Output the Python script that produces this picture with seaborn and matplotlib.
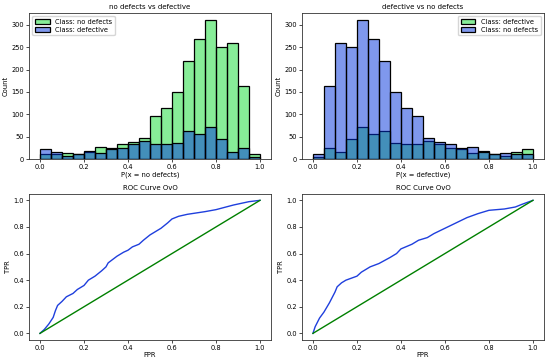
import numpy as np
import pandas as pd
import matplotlib
matplotlib.use("Agg")
import matplotlib.pyplot as plt
import seaborn as sns

# bin edges of the probability histograms (20 bins on [0, 1])
bin_edges = [round(i * 0.05, 2) for i in range(21)]
bin_centers = [round(e + 0.025, 3) for e in bin_edges[:-1]]

# counts per bin of P(x = no defects)
no_defects_counts = [12, 11, 13, 12, 17, 27, 25, 34, 38, 47,
                     96, 115, 151, 218, 268, 311, 250, 258, 163, 12]
defective_counts = [23, 16, 8, 11, 18, 13, 22, 25, 35, 40,
                    34, 33, 37, 63, 57, 71, 46, 16, 25, 5]

# ROC curve OvO: no defects vs defective
roc1_fpr = [0.0, 0.02, 0.04, 0.06, 0.07, 0.08, 0.10, 0.12, 0.15, 0.17, 0.20, 0.22,
            0.25, 0.28, 0.30, 0.31, 0.35, 0.38, 0.40, 0.42, 0.45, 0.47, 0.50, 0.55,
            0.58, 0.60, 0.63, 0.67, 0.75, 0.80, 0.88, 0.95, 1.0]
roc1_tpr = [0.0, 0.03, 0.07, 0.12, 0.17, 0.21, 0.24, 0.275, 0.30, 0.33, 0.36, 0.40,
            0.43, 0.47, 0.50, 0.53, 0.58, 0.61, 0.625, 0.65, 0.67, 0.70, 0.74, 0.79,
            0.83, 0.86, 0.88, 0.895, 0.915, 0.93, 0.965, 0.99, 1.0]

# ROC curve OvO: defective vs no defects
roc2_fpr = [0.0, 0.01, 0.03, 0.05, 0.075, 0.10, 0.11, 0.13, 0.15, 0.20, 0.22, 0.26,
            0.30, 0.35, 0.38, 0.40, 0.45, 0.48, 0.52, 0.55, 0.60, 0.65, 0.70, 0.75,
            0.80, 0.87, 0.92, 0.95, 1.0]
roc2_tpr = [0.0, 0.05, 0.115, 0.16, 0.23, 0.31, 0.35, 0.38, 0.40, 0.43, 0.46, 0.50,
            0.525, 0.57, 0.60, 0.635, 0.67, 0.70, 0.72, 0.75, 0.79, 0.83, 0.87, 0.90,
            0.925, 0.935, 0.95, 0.97, 1.0]

GREEN = "#11dd33"
BLUE = "#0033dd"

plt.rcParams.update({"font.size": 4.8, "axes.titlesize": 5.0,
                     "axes.labelsize": 4.9, "xtick.labelsize": 4.8,
                     "ytick.labelsize": 4.8, "legend.fontsize": 4.8,
                     "axes.linewidth": 0.6, "axes.edgecolor": "#333333",
                     "xtick.major.width": 0.5, "ytick.major.width": 0.5,
                     "xtick.major.size": 2.0, "ytick.major.size": 2.0})

fig = plt.figure(figsize=(5.5, 3.64), dpi=100)
ax1 = fig.add_axes([0.0527, 0.5624, 0.44, 0.4027])
ax2 = fig.add_axes([0.549, 0.5624, 0.44, 0.4027])
ax3 = fig.add_axes([0.0527, 0.0659, 0.44, 0.402])
ax4 = fig.add_axes([0.549, 0.0659, 0.44, 0.402])


def plot_hist(ax, first, second, first_label, second_label, xlabel, title, loc):
    df = pd.DataFrame({"p": bin_centers, "first": first, "second": second})
    sns.histplot(data=df, x="p", weights="first", bins=bin_edges, color=GREEN,
                 alpha=0.5, edgecolor="black", linewidth=0.9, label=first_label, ax=ax)
    sns.histplot(data=df, x="p", weights="second", bins=bin_edges, color=BLUE,
                 alpha=0.5, edgecolor="black", linewidth=0.9, label=second_label, ax=ax)
    ax.set_xlabel(xlabel, labelpad=1)
    ax.set_ylabel("Count", labelpad=2)
    ax.set_title(title, pad=3)
    ax.set_xticks(np.arange(0, 1.01, 0.2))
    ax.legend(loc=loc, handlelength=2.2, borderpad=0.4, labelspacing=0.3)
    ax.tick_params(pad=1.5)


plot_hist(ax1, no_defects_counts, defective_counts,
          "Class: no defects", "Class: defective",
          "P(x = no defects)", "no defects vs defective", "upper left")
plot_hist(ax2, defective_counts[::-1], no_defects_counts[::-1],
          "Class: defective", "Class: no defects",
          "P(x = defective)", "defective vs no defects", "upper right")


def plot_roc(ax, fpr, tpr):
    sns.lineplot(x=fpr, y=tpr, sort=False, estimator=None, color="#1f3fdd",
                 linewidth=1.0, ax=ax)
    sns.lineplot(x=[0, 1], y=[0, 1], color="green", linewidth=1.0, ax=ax)
    ax.set_title("ROC Curve OvO", pad=3)
    ax.set_xlabel("FPR", labelpad=1)
    ax.set_ylabel("TPR", labelpad=2)
    ax.set_xticks(np.arange(0, 1.01, 0.2))
    ax.set_yticks(np.arange(0, 1.01, 0.2))
    ax.tick_params(pad=1.5)


plot_roc(ax3, roc1_fpr, roc1_tpr)
plot_roc(ax4, roc2_fpr, roc2_tpr)

fig.savefig("out.png", dpi=100)
